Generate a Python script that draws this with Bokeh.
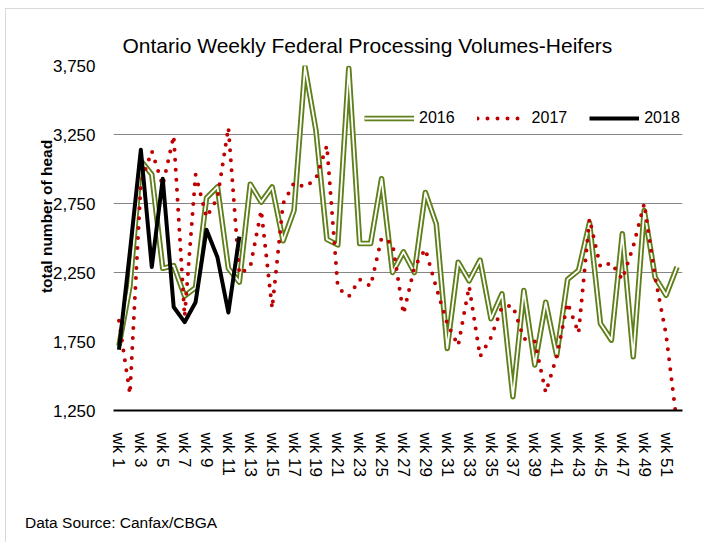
from bokeh.plotting import figure
from bokeh.layouts import column
from bokeh.models import (Range1d, FixedTicker, NumeralTickFormatter, Div,
                          Legend, LegendItem)
from bokeh.embed import file_html
from bokeh.resources import INLINE

# ---- data ----
weeks = [1, 2, 3, 4, 5, 6, 7, 8, 9, 10, 11, 12, 13, 14, 15, 16, 17, 18, 19, 20,
         21, 22, 23, 24, 25, 26, 27, 28, 29, 30, 31, 32, 33, 34, 35, 36, 37, 38,
         39, 40, 41, 42, 43, 44, 45, 46, 47, 48, 49, 50, 51, 52]
vol_2016 = [1720, 2150, 3060, 2960, 2280, 2300, 2080, 2140, 2790, 2870,
            2280, 2180, 2890, 2760, 2870, 2480, 2700, 3740, 3280, 2490,
            2450, 3730, 2460, 2460, 2930, 2250, 2400, 2250, 2830, 2600,
            1700, 2325, 2190, 2340, 1915, 2095, 1350, 2120, 1580, 2035,
            1650, 2200, 2265, 2610, 1880, 1760, 2530, 1640, 2700, 2215,
            2085, 2290]
vol_2017 = [1900, 1370, 2900, 3130, 2880, 3240, 1930, 2960, 2650, 2790,
            3300, 2240, 2290, 2700, 1990, 2750, 2900, 2870, 2930, 3170,
            2140, 2075, 2200, 2150, 2500, 2460, 1950, 2290, 2420, 2140,
            1880, 1720, 2150, 1640, 1780, 2000, 2010, 1770, 1750, 1380,
            1640, 2030, 1810, 2640, 2290, 2320, 2200, 2440, 2750, 2215,
            1800, 1150]
weeks_2018 = [1, 2, 3, 4, 5, 6, 7, 8, 9, 10, 11, 12]
vol_2018 = [1690, 2400, 3140, 2290, 2930, 2000, 1890, 2035, 2560, 2360, 1960, 2510]

tick_weeks = [1, 3, 5, 7, 9, 11, 13, 15, 17, 19, 21, 23, 25, 27, 29, 31, 33,
              35, 37, 39, 41, 43, 45, 47, 49, 51]
tick_labels = ["wk 1", "wk 3", "wk 5", "wk 7", "wk 9", "wk 11", "wk 13",
               "wk 15", "wk 17", "wk 19", "wk 21", "wk 23", "wk 25", "wk 27",
               "wk 29", "wk 31", "wk 33", "wk 35", "wk 37", "wk 39", "wk 41",
               "wk 43", "wk 45", "wk 47", "wk 49", "wk 51"]
y_ticks = [1250, 1750, 2250, 2750, 3250, 3750]
grid_ticks = [2250, 2750, 3250]

FONT = "Liberation Sans"

p = figure(width=694, height=476,
           x_range=Range1d(0.5, 52.5), y_range=Range1d(1250, 3750),
           output_backend="svg", toolbar_location=None,
           min_border_left=107, min_border_right=18,
           min_border_top=56, min_border_bottom=75,
           background_fill_color="white", border_fill_color="white",
           outline_line_color=None)

# title
p.title.text = "Ontario Weekly Federal Processing Volumes-Heifers"
p.title.align = "left"
p.title.offset = 9
p.title.standoff = 17
p.title.text_font = FONT
p.title.text_font_size = "21px"
p.title.text_font_style = "normal"
p.title.text_color = "black"

# grid
p.xgrid.visible = False
p.ygrid.ticker = FixedTicker(ticks=grid_ticks)
p.ygrid.grid_line_color = "#868686"
p.ygrid.grid_line_width = 1

# y axis
p.yaxis.ticker = FixedTicker(ticks=y_ticks)
p.yaxis.formatter = NumeralTickFormatter(format="0,0")
p.yaxis.axis_line_color = None
p.yaxis.major_tick_line_color = None
p.yaxis.minor_tick_line_color = None
p.yaxis.major_label_standoff = 12
p.yaxis.major_label_text_font = FONT
p.yaxis.major_label_text_font_size = "17px"
p.yaxis.major_label_text_color = "black"
p.yaxis.axis_label = "\u00a0" * 10 + "total number of head"
p.yaxis.axis_label_standoff = -5
p.yaxis.axis_label_text_font = FONT
p.yaxis.axis_label_text_font_style = "bold"
p.yaxis.axis_label_text_font_size = "15.5px"
p.yaxis.axis_label_text_color = "black"

# x axis
p.xaxis.ticker = FixedTicker(ticks=tick_weeks)
p.xaxis.major_label_overrides = dict(zip(tick_weeks, tick_labels))
p.xaxis.axis_line_color = "black"
p.xaxis.axis_line_width = 2
p.xaxis.major_tick_line_color = None
p.xaxis.minor_tick_line_color = None
p.xaxis.major_label_orientation = "vertical"
p.xaxis.major_label_standoff = 16
p.xaxis.major_label_text_font = FONT
p.xaxis.major_label_text_font_size = "17px"
p.xaxis.major_label_text_color = "black"

# series
r16a = p.line(weeks, vol_2016, line_color="#5f7f1a", line_width=5.5, line_join="round")
r16b = p.line(weeks, vol_2016, line_color="white", line_width=1.8, line_join="round")
r17 = p.line(weeks, vol_2017, line_color="#c00000", line_width=4,
             line_dash="0 10", line_cap="round", line_join="round")
r18 = p.line(weeks_2018, vol_2018, line_color="black", line_width=4, line_join="round")

legend = Legend(items=[LegendItem(label="2016", renderers=[r16a, r16b]),
                       LegendItem(label="2017", renderers=[r17]),
                       LegendItem(label="2018", renderers=[r18])],
                orientation="horizontal", location=(251, 282),
                border_line_color=None, background_fill_alpha=0,
                padding=0, margin=0, spacing=22, glyph_width=50,
                glyph_height=20, label_height=20, label_standoff=5,
                label_text_font=FONT, label_text_font_size="16px",
                label_text_color="black")
p.add_layout(legend)

# data source note below the chart
note = Div(text="Data Source: Canfax/CBGA", width=694, height=55,
           styles={"padding-left": "14px", "padding-top": "24px",
                   "font-family": "'Liberation Sans'", "font-size": "15.5px",
                   "line-height": "18px", "color": "black",
                   "box-sizing": "border-box", "background": "white"})

layout = column(p, note, spacing=0)
layout.styles = {"margin-left": "5px", "margin-top": "8px",
                 "border": "1px solid #d9d9d9", "background": "white"}

open("out.html", "w").write(file_html(layout, INLINE))
